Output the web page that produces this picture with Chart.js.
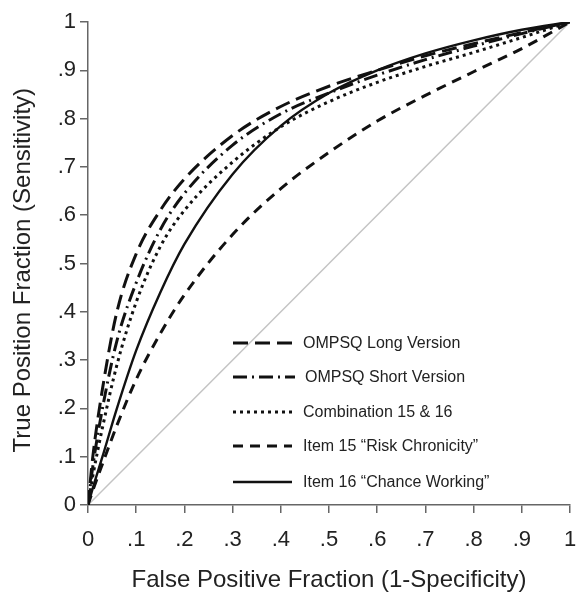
<!DOCTYPE html>
<html>
<head>
<meta charset="utf-8">
<script src="https://cdn.jsdelivr.net/npm/chart.js@4.4.1/dist/chart.umd.min.js"></script>
<style>
  html, body { margin: 0; padding: 0; background: #fff; }
  #wrap { width: 579px; height: 592px; }
</style>
</head>
<body>
<div id="wrap"><canvas id="roc" width="579" height="592"></canvas></div>
<script>
// False positive fraction (1 - specificity), shared by all curves
const fpf = [0, 0.01, 0.03, 0.06, 0.1, 0.15, 0.2, 0.3, 0.4, 0.5, 0.6, 0.7, 0.8, 0.9, 1];

// True positive fraction (sensitivity)
const longVersion   = [0, 0.10, 0.24, 0.40, 0.52, 0.61, 0.675, 0.765, 0.825, 0.867, 0.90, 0.93, 0.955, 0.978, 1];
const shortVersion  = [0, 0.08, 0.20, 0.34, 0.46, 0.57, 0.645, 0.745, 0.81, 0.853, 0.89, 0.922, 0.95, 0.976, 1];
const combination   = [0, 0.06, 0.16, 0.29, 0.42, 0.535, 0.61, 0.71, 0.783, 0.835, 0.875, 0.908, 0.937, 0.968, 1];
const item15        = [0, 0.03, 0.085, 0.165, 0.26, 0.355, 0.435, 0.56, 0.655, 0.73, 0.795, 0.848, 0.897, 0.945, 1];
const item16        = [0, 0.035, 0.10, 0.20, 0.32, 0.44, 0.54, 0.685, 0.785, 0.853, 0.90, 0.935, 0.962, 0.984, 1];

const chanceLine = [0, 1];

const seriesNames = [
  'OMPSQ Long Version',
  'OMPSQ Short Version',
  'Combination 15 & 16',
  'Item 15 \u201CRisk Chronicity\u201D',
  'Item 16 \u201CChance Working\u201D'
];

const tickValues = [0, 0.1, 0.2, 0.3, 0.4, 0.5, 0.6, 0.7, 0.8, 0.9, 1];
const tickLabels = ['0', '.1', '.2', '.3', '.4', '.5', '.6', '.7', '.8', '.9', '1'];

const ink = '#111';
const dashes = [
  [15, 7],
  [14, 5, 2, 5],
  [3, 4],
  [10, 7],
  []
];
const widths = [3, 3, 3, 3, 2.4];

function pts(ys) {
  return fpf.map((x, i) => ({ x: x, y: ys[i] }));
}

const curves = [longVersion, shortVersion, combination, item15, item16];

const datasets = curves.map((ys, i) => ({
  label: seriesNames[i],
  data: pts(ys),
  showLine: true,
  borderColor: ink,
  borderWidth: widths[i],
  borderDash: dashes[i],
  borderCapStyle: 'butt',
  pointRadius: 0,
  cubicInterpolationMode: 'monotone',
  fill: false
}));

datasets.push({
  label: 'chance',
  data: chanceLine.map(v => ({ x: v, y: v })),
  showLine: true,
  borderColor: '#c4c4c4',
  borderWidth: 1.5,
  pointRadius: 0,
  order: 10
});

// hand-drawn legend box inside the plot, like the original figure
const legendPlugin = {
  id: 'rocLegend',
  afterDraw(chart) {
    const ctx = chart.ctx;
    const rows = [343, 377, 412, 446, 482];
    const x0 = 233, x1 = 292;
    ctx.save();
    rows.forEach((y, i) => {
      ctx.beginPath();
      ctx.setLineDash(dashes[i]);
      ctx.lineWidth = widths[i];
      ctx.strokeStyle = ink;
      ctx.moveTo(x0, y);
      ctx.lineTo(i === 1 ? x1 + 3 : x1, y);
      ctx.stroke();
      ctx.setLineDash([]);
      ctx.fillStyle = '#222';
      ctx.font = '16px "Liberation Sans", Arial, sans-serif';
      ctx.textBaseline = 'middle';
      ctx.fillText(seriesNames[i], i === 1 ? 305 : 303, y + 1);
    });
    ctx.restore();
  }
};

const axisFont = { family: '"Liberation Sans", Arial, sans-serif', size: 22 };
const titleFont = { family: '"Liberation Sans", Arial, sans-serif', size: 24, lineHeight: 1 };

new Chart(document.getElementById('roc').getContext('2d'), {
  type: 'scatter',
  data: { datasets },
  options: {
    responsive: false,
    animation: false,
    layout: { padding: { left: 0, top: 22, right: 9, bottom: 0 } },
    plugins: { legend: { display: false }, tooltip: { enabled: false } },
    scales: {
      x: {
        type: 'linear',
        min: 0,
        max: 1,
        afterBuildTicks: s => { s.ticks = tickValues.map(v => ({ value: v })); },
        afterFit: s => { s.height = 87; s.paddingLeft = 0; s.paddingRight = 0; },
        ticks: {
          color: '#222',
          font: axisFont,
          padding: 14,
          maxRotation: 0,
          autoSkip: false,
          callback: (v) => tickLabels[tickValues.indexOf(Math.round(v * 10) / 10)]
        },
        grid: { drawOnChartArea: false, color: '#666', tickLength: 8, lineWidth: 1.5 },
        border: { color: '#666', width: 1.5 },
        title: {
          display: true,
          text: 'False Positive Fraction (1-Specificity)',
          color: '#222',
          font: titleFont,
          padding: 0
        }
      },
      y: {
        type: 'linear',
        min: 0,
        max: 1,
        afterBuildTicks: s => { s.ticks = tickValues.map(v => ({ value: v })); },
        afterFit: s => { s.width = 88; s.paddingTop = 0; s.paddingBottom = 0; },
        ticks: {
          color: '#222',
          font: axisFont,
          padding: 4,
          autoSkip: false,
          callback: (v) => tickLabels[tickValues.indexOf(Math.round(v * 10) / 10)]
        },
        grid: { drawOnChartArea: false, color: '#666', tickLength: 8, lineWidth: 1.5 },
        border: { color: '#666', width: 1.5 },
        title: {
          display: true,
          text: 'True Position Fraction (Sensitivity)  ',
          color: '#222',
          font: titleFont,
          padding: 11
        }
      }
    }
  },
  plugins: [legendPlugin]
});
</script>
</body>
</html>
